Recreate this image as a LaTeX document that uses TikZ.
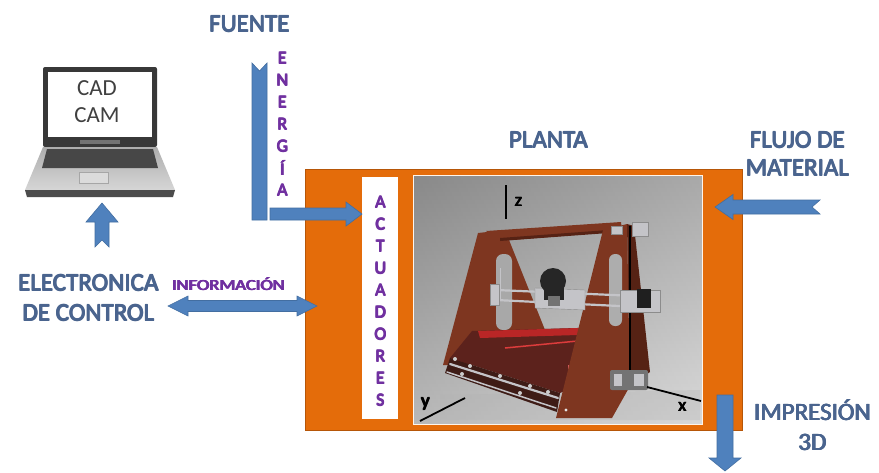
\documentclass[tikz,border=0pt]{standalone}
\usepackage{fontspec}
\setmainfont{Carlito}
% heavy lettering: the text is set four times with a small offset
\newcommand{\emb}[1]{\begingroup\setbox0\hbox{#1}\copy0\kern-\wd0\kern0.85pt\copy0\kern-\wd0\raise0.6pt\copy0\kern-\wd0\kern-0.85pt\raise0.6pt\copy0\endgroup}
\definecolor{planorange}{RGB}{228,108,10}
\definecolor{arrowblue}{RGB}{79,129,189}
\definecolor{labelblue}{RGB}{74,100,142}
\definecolor{vpurple}{RGB}{112,48,160}
\definecolor{wood}{RGB}{126,54,32}
\definecolor{wooddark}{RGB}{86,34,20}
\definecolor{chrome}{RGB}{196,196,200}
\definecolor{screengray}{RGB}{64,64,64}
\definecolor{beddark}{RGB}{92,34,28}
\definecolor{bedred}{RGB}{185,38,38}
\definecolor{bedglow}{RGB}{220,60,60}
\definecolor{bedpink}{RGB}{210,90,90}
\definecolor{carriage}{RGB}{62,28,22}
\tikzset{
  heading/.style={font=\fontsize{25}{28}\selectfont, text=labelblue, align=center, inner sep=0pt},
  vletter/.style={font=\fontsize{18}{18}\selectfont, text=vpurple, inner sep=0pt},
  blockarrow/.style={fill=arrowblue, draw=arrowblue!85!black, line width=0.6pt},
  axisline/.style={line width=1.8pt, black},
  axislabel/.style={font=\fontsize{19}{19}\selectfont, inner sep=0pt},
  rod/.style={line width=2.2pt, chrome, line cap=round}
}
\begin{document}
\begin{tikzpicture}[x=1pt,y=-1pt]
\useasboundingbox (0,0) rectangle (879,472);
\fill[white] (0,0) rectangle (879,472);

% ---------- laptop ----------
\fill[black!78, rounded corners=2pt] (43,67) rectangle (157,147);
\node[draw=none, fill=white, minimum width=104pt, minimum height=65pt, inner sep=0pt] (screen) at (100,104.5) {};
\fill[black!55] (80,140) rectangle (120,144);
\shade[top color=black!32, bottom color=black!16] (43,147) -- (157,147) -- (175,190) -- (25,190) -- cycle;
\fill[black!72] (47,149) -- (153,149) -- (158,168) -- (42,168) -- cycle;
\fill[black!14, draw=black!35, line width=0.4pt] (79,172) rectangle (108,183);
\fill[black!70] (25,190) -- (175,190) -- (173,197) -- (27,197) -- cycle;
\node[font=\fontsize{23}{27}\selectfont, text=screengray, align=center, inner sep=0pt] (cadcam) at (97,101.5) {CAD\\CAM};

% laptop arrow
\fill[blockarrow] (102,203) -- (118,222) -- (109,222) -- (109,247) -- (102,240) -- (95,247) -- (95,222) -- (86,222) -- cycle;

% ---------- plant block ----------
\fill[planorange, draw=planorange!80!black, line width=0.5pt] (305,169) rectangle (742,430);
\node[fill=white, minimum width=36pt, minimum height=242pt, inner sep=0pt] (act) at (380,298) {};
\foreach \l [count=\i] in {A,C,T,U,A,D,O,R,E,S}
  \node[vletter] (act\i) at (380,{202+22*(\i-1)}) {\emb{\l}};

% ---------- printer picture ----------
\node[minimum width=289pt, minimum height=249pt, inner sep=0pt] (photo) at (557.5,299.5) {};
\begin{scope}
\clip (413,175) rectangle (702,424);
\shade[top color=black!45, bottom color=black!20] (413,175) rectangle (702,424);
\shade[left color=black!50, right color=white, opacity=0.25] (413,175) rectangle (702,424);
\fill[black!30, opacity=0.3] (440,395) -- (700,390) -- (700,420) -- (440,420) -- cycle;

% back frame
\fill[wood] (478,233) -- (505,230) -- (545,330) -- (530,365) -- (443,365) -- cycle;
\fill[black!34, rounded corners=7pt] (496,330) -- (496,254) -- (512,254) -- (512,330) -- cycle;
\draw[chrome, line width=1pt] (500,268) -- (500,300);
% top cross bar
\fill[wood] (486,231) -- (621,222) -- (622,231) -- (500,241) -- cycle;
\fill[wooddark] (500,238) -- (622,229) -- (622,232) -- (500,241) -- cycle;

% print bed
\fill[beddark] (472,331) -- (612,327) -- (600,376) -- (560,393) -- (450,358) -- cycle;
\fill[bedred] (478,331) -- (612,327) -- (610,334) -- (480,338) -- cycle;
\draw[bedglow, line width=1.5pt] (505,348) -- (588,340);
\fill[bedpink] (568,365) rectangle (584,372);

% front lower carriage
\fill[carriage] (450,358) -- (560,393) -- (557,412) -- (445,373) -- cycle;
\draw[rod] (450,364) -- (558,398);
\draw[rod, line width=1.5pt] (447,372) -- (556,408);
\foreach \p in {(455,359),(470,366),(500,376),(530,386),(548,392),(462,374),(520,393)}
  \fill[black!20] \p circle (2pt);

% front frame side and face
\fill[wooddark] (627,224) -- (634,226) -- (650,372) -- (630,386) -- cycle;
\fill[wood] (603,230) -- (627,224) -- (630,386) -- (612,418) -- (556,418) -- cycle;
\fill[black!32, rounded corners=6pt] (609,254) -- (622,254) -- (622,326) -- (609,326) -- cycle;
\fill[black!10] (566,410) circle (1.6pt);
% threaded z rod
\draw[black, line width=2pt] (630,226) -- (630,388);

% gantry
\draw[rod] (496,290) -- (660,297);
\draw[rod] (496,300) -- (660,308);
\fill[chrome, draw=black!45, line width=0.4pt] (490,284) rectangle (499,305);
\fill[chrome, draw=black!45, line width=0.4pt] (535,288) -- (585,290) -- (585,310) -- (535,308) -- cycle;
\fill[black!85] (553,281) circle (13pt);
\fill[black!85] (544,281) rectangle (564,300);
\fill[black!55] (548,296) rectangle (560,306);
\fill[chrome, draw=black!45, line width=0.4pt] (620,290) rectangle (660,312);
\fill[black!88] (637,289) rectangle (651,308);

% top brackets
\fill[chrome, draw=black!45, line width=0.4pt] (611,226) rectangle (622,234);
\fill[chrome, draw=black!45, line width=0.4pt] (632,222) rectangle (648,236);

% base bracket
\fill[black!55, rounded corners=2pt] (610,370) rectangle (648,390);
\fill[chrome] (614,374) rectangle (622,386);
\fill[chrome] (634,374) rectangle (644,386);
\end{scope}
\draw[white!92!orange, line width=1pt] (413,175) rectangle (702,424);

% axes
\draw[axisline] (506,185) -- (506,219);
\node[axislabel] (zlab) at (518,202) {\emb{z}};
\draw[axisline] (420,421) -- (465,398);
\node[axislabel] (ylab) at (425,404) {\emb{y}};
\draw[axisline] (647,387) -- (701,401);
\node[axislabel] (xlab) at (682,407) {\emb{x}};

% ---------- labels ----------
\node[heading] (fuente) at (249,24) {\emb{FUENTE}};
\node[heading] (planta) at (548,140) {\emb{PLANTA}};
\node[heading] (flujo) at (797,154) {\emb{FLUJO DE}\\\emb{MATERIAL}};
\node[heading, font=\fontsize{25}{30}\selectfont] (elec) at (88,298) {\emb{ELECTRONICA}\\\emb{DE CONTROL}};
\node[heading, font=\fontsize{25}{30}\selectfont] (impr) at (812,425) {\emb{IMPRESIÓN}\\\emb{3D}};
\node[font=\fontsize{15.5}{16}\selectfont, text=vpurple, inner sep=0pt, xscale=1.2] (info) at (228,284) {\emb{INFORMACIÓN}};

% energy path
\foreach \l [count=\i] in {E,N,E,R,G,Í,A}
  \node[vletter] (ener\i) at (282,{58+22*(\i-1)}) {\emb{\l}};
\fill[blockarrow] (252,63) -- (259.5,71) -- (267,63) -- (267,220) -- (252,220) -- cycle;
\fill[blockarrow] (270,208) -- (346,208) -- (346,202) -- (362,214) -- (346,226) -- (346,220) -- (270,220) -- cycle;

% information flow
\fill[blockarrow] (168,306) -- (188,296) -- (188,300.5) -- (297,300.5) -- (297,296) -- (317,306) -- (297,316) -- (297,311.5) -- (188,311.5) -- (188,316) -- cycle;

% material flow
\fill[blockarrow] (715,207) -- (733,194.5) -- (733,200) -- (820,200) -- (812,207) -- (820,214) -- (733,214) -- (733,219.5) -- cycle;

% printed output
\fill[blockarrow] (717,395) -- (733,395) -- (733,458) -- (741,458) -- (725,471) -- (709,458) -- (717,458) -- cycle;
\end{tikzpicture}
\end{document}
